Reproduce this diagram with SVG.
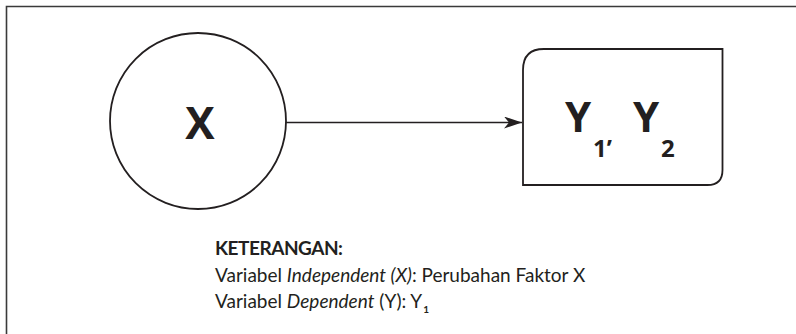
<svg xmlns="http://www.w3.org/2000/svg" width="796" height="334" viewBox="0 0 796 334">
  <defs>
    <marker id="arrowhead" viewBox="0 0 18 12" refX="18" refY="6" markerWidth="18" markerHeight="12" markerUnits="userSpaceOnUse" orient="auto">
      <path d="M0,0 L18,6 L0,12 L5,6 Z" fill="#231f20"/>
    </marker>
    <style>
      .frame { fill: none; stroke: #3a3a3a; stroke-width: 1.6; }
      .shape { fill: #ffffff; stroke: #231f20; stroke-width: 1.8; }
      .edge { fill: none; stroke: #231f20; stroke-width: 1.6; }
      .big { font-family: "Open Sans", "Liberation Sans", sans-serif; font-weight: 700; fill: #231f20; }
      .note { font-family: Lato, "Open Sans", sans-serif; font-size: 19px; fill: #231f20; }
      .sub { font-size: 10px; font-weight: 700; }
    </style>
  </defs>

  <rect width="796" height="334" fill="#ffffff"/>
  <!-- page border: top and left edges -->
  <path class="frame" d="M6.5,334 L6.5,6.5 L796,6.5"/>

  <g id="connectors">
    <line class="edge" x1="286" y1="122.5" x2="522" y2="122.5" marker-end="url(#arrowhead)"/>
  </g>

  <g id="node-x">
    <circle class="shape" cx="198" cy="121" r="88"/>
    <text class="big" x="200" y="139" font-size="44" text-anchor="middle">X</text>
  </g>

  <g id="node-y">
    <path class="shape" d="M523,185 L523,70 Q523,49 544,49 L722.5,49 L722.5,170 Q722.5,185 707.5,185 Z"/>
    <text class="big" x="565" y="132" font-size="42">Y</text>
    <text class="big" x="593" y="157" font-size="24">1’</text>
    <text class="big" x="633" y="132" font-size="42">Y</text>
    <text class="big" x="661" y="157" font-size="24">2</text>
  </g>

  <g id="legend">
    <text class="note" x="215" y="255" font-weight="700" textLength="128" lengthAdjust="spacing">KETERANGAN:</text>
    <text class="note" x="215" y="282">Variabel <tspan font-style="italic">Independent (X)</tspan>: Perubahan Faktor X</text>
    <text class="note" x="215" y="308">Variabel <tspan font-style="italic">Dependent</tspan> (Y): Y<tspan class="sub" dx="1" dy="5">1</tspan></text>
  </g>
</svg>
